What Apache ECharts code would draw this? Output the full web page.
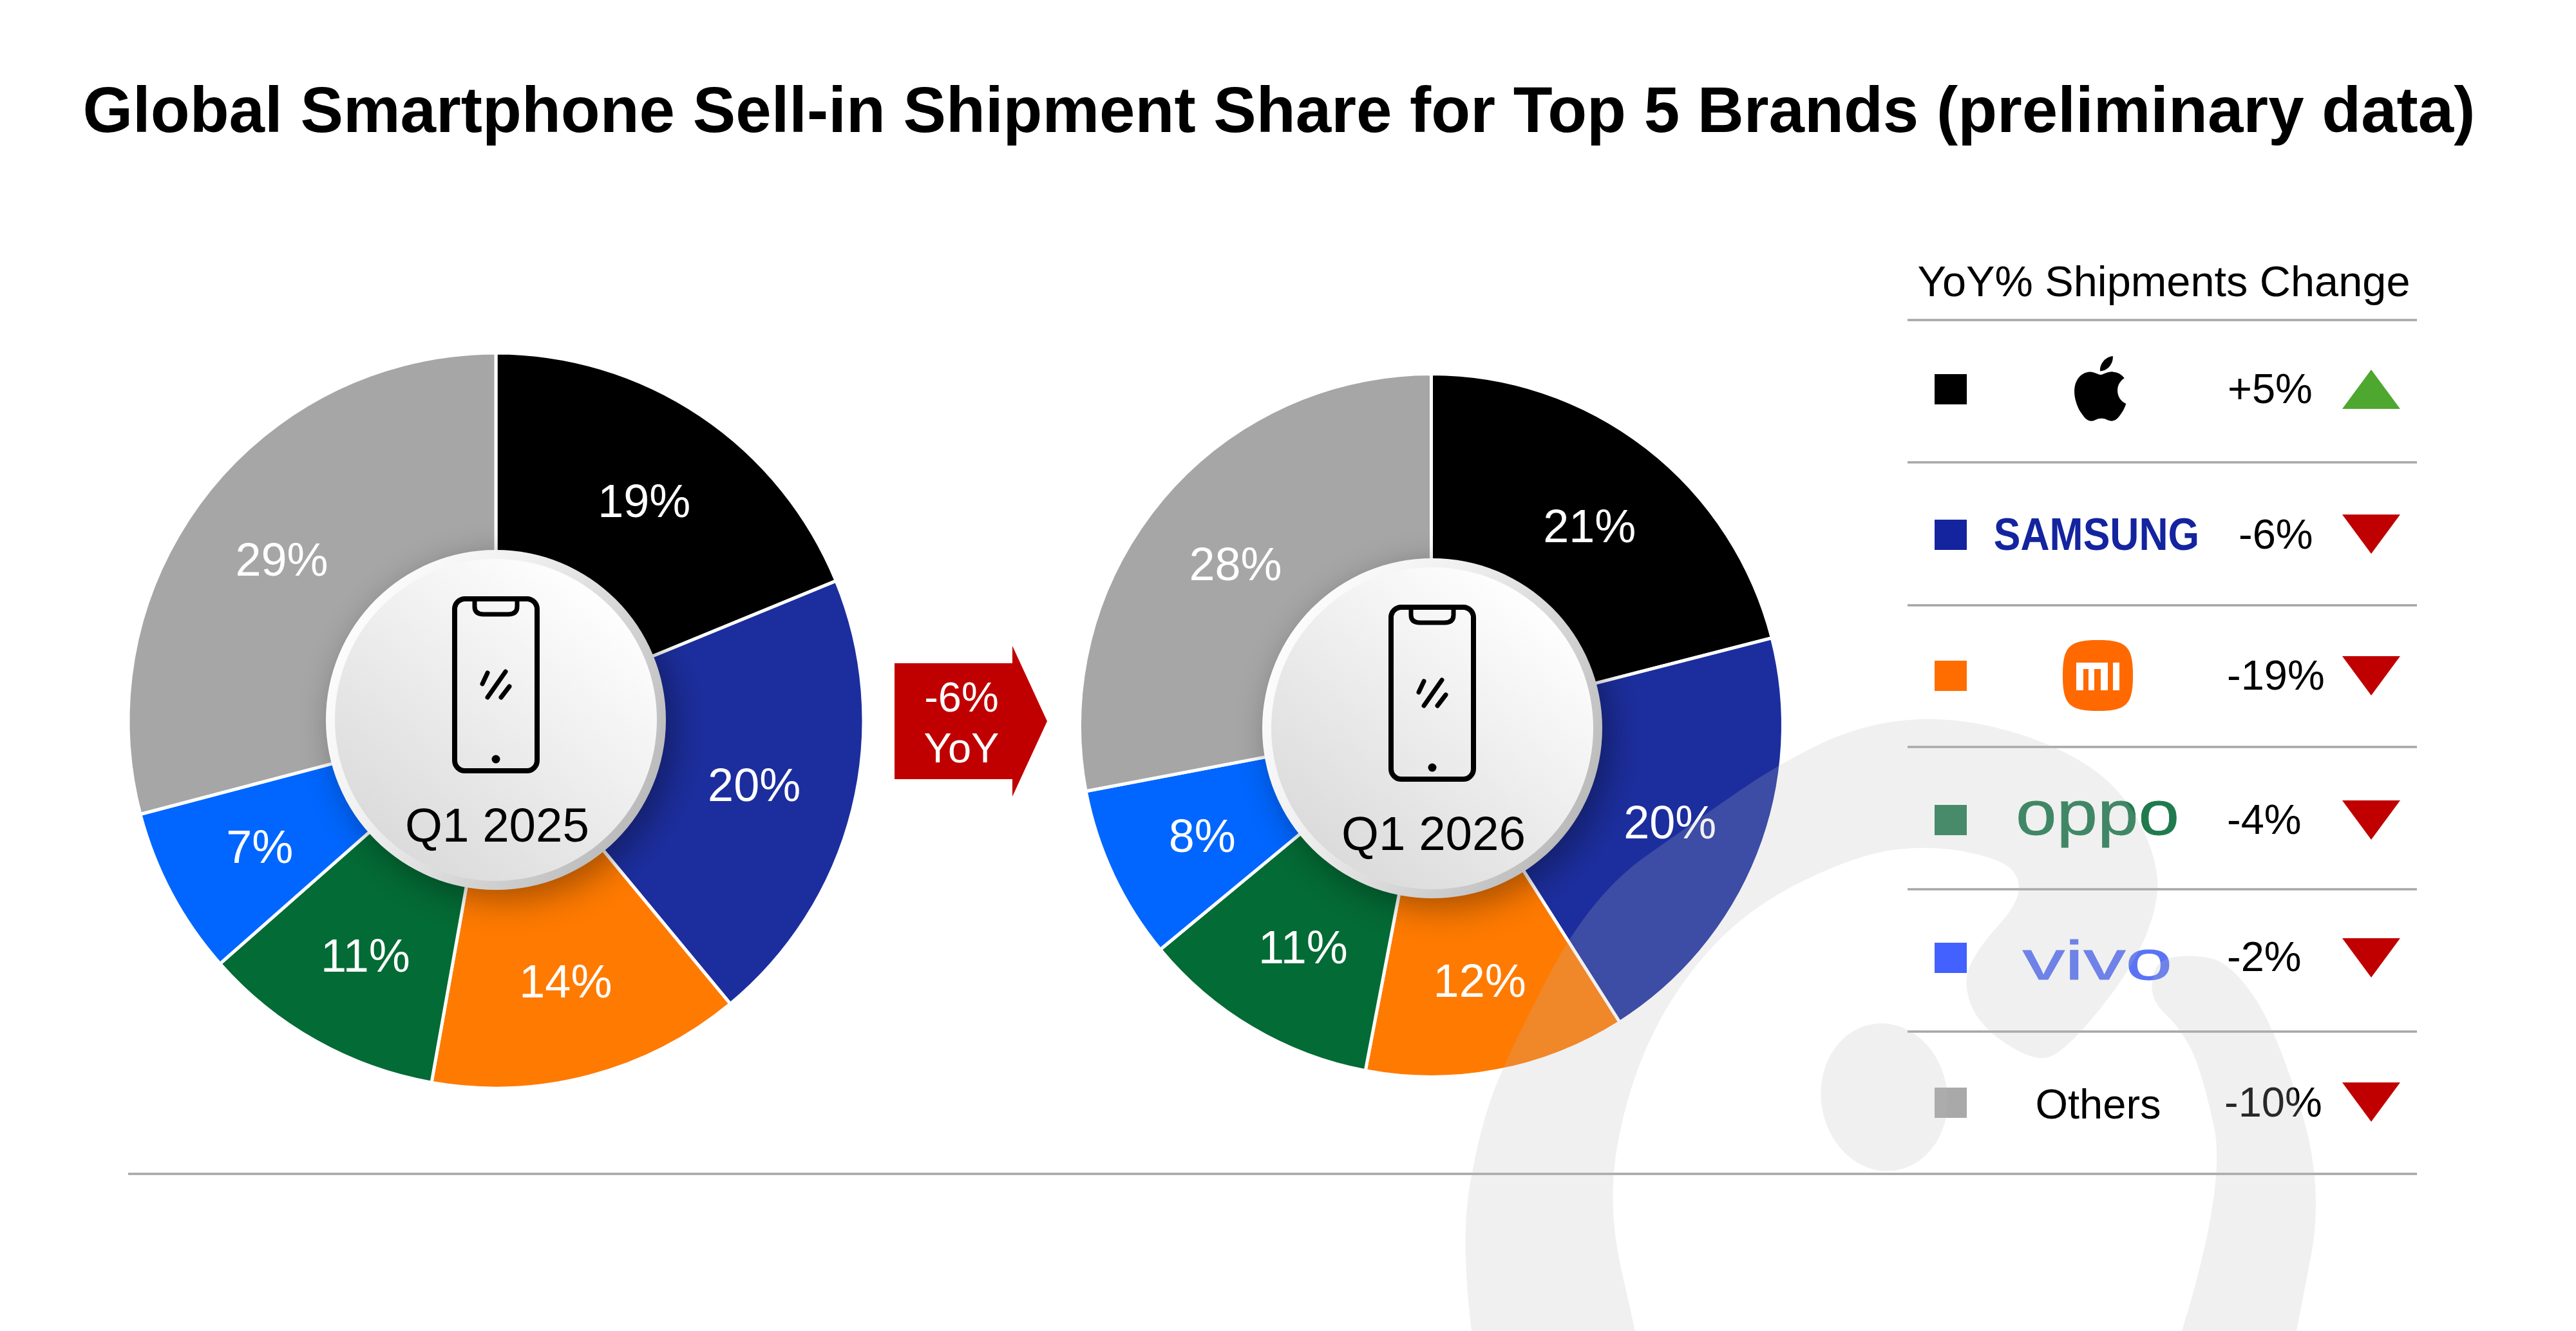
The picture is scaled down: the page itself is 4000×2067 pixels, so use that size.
<!DOCTYPE html>
<html><head><meta charset="utf-8">
<style>html,body{margin:0;padding:0;background:#fff}#c{width:4000px;height:2067px}</style>
<script src="https://cdn.jsdelivr.net/npm/echarts@6/dist/echarts.min.js"></script>
</head><body><div id="c"></div>
<script>
const titleText = 'Global Smartphone Sell-in Shipment Share for Top 5 Brands (preliminary data)';
const brands = ['Apple', 'Samsung', 'Xiaomi', 'OPPO', 'vivo', 'Others'];
const share2025 = [18.8, 20.2, 13.8, 10.7, 7.4, 29.1];
const share2026 = [21, 20, 12, 11, 8, 28];
const yoyChange = [5, -6, -19, -4, -2, -10];
const totalYoY = -6;
const periods = ['Q1 2025', 'Q1 2026'];
const legendHeader = 'YoY% Shipments Change';

const FONT = '"Liberation Sans", Arial, sans-serif';
const pieColors = ['#000000', '#1C2E9E', '#FF7A00', '#036B35', '#0066FF', '#A6A6A6'];
const swatchColors = ['#000000', '#14249F', '#FF6D00', '#297F55', '#4361FF', '#A9A9A9'];
const pieLayout = [
  { cx: 770, cy: 1119, r: 571, dx: 770, dy: 1118,
    ldx: [0, 0, 3, 0, -2, -5], ldy: [8, 5, 10, 10, 7, 8] },
  { cx: 2222.5, cy: 1126.5, r: 546, dx: 2224, dy: 1131,
    ldx: [0, -2, 0, 5, 7, 5], ldy: [12, 8, 8, 4, 6, 10] }
];
const ruleYs = [497, 718, 940, 1160, 1381, 1602, 1823];
const swatchTop = [581, 807, 1026, 1250, 1464, 1689];
const triTop = [574, 799, 1019, 1243, 1457, 1681];
const yoyX = [3459, 3476, 3458, 3458, 3458, 3454];
const yoyY = [608, 834, 1053, 1277, 1490, 1716];

const g = [];
const text = (t, x, y, size, fill, opt) => g.push(Object.assign({
  type: 'text', x, y, z: 50,
  style: Object.assign({ text: t, x: 0, y: 0, fill, font: (opt && opt.weight ? opt.weight + ' ' : '') + size + 'px ' + FONT,
           textAlign: (opt && opt.align) || 'center', textVerticalAlign: 'middle' }, opt && opt.style)
}, opt && opt.el));
let shapeId = 0;
const path = (d, fill, z, extra, el) => {
  const name = 'shape' + (shapeId++);
  echarts.graphic.registerShape(name, echarts.graphic.extendPath(d, {}));
  g.push(Object.assign({ type: name, z: z || 50, shape: {}, style: Object.assign({ fill }, extra) }, el));
};

/* centre discs + phone icons */
pieLayout.forEach((p, i) => {
  const { dx: x, dy: y } = p;
  g.push({ type: 'circle', z: 10, shape: { cx: x, cy: y, r: 264 }, style: {
    fill: new echarts.graphic.LinearGradient(0, 0.2, 1, 0.8, [{ offset: 0, color: '#ffffff' }, { offset: 0.35, color: '#f0f0f0' }, { offset: 1, color: '#b4b4b4' }]),
    shadowBlur: 55, shadowColor: 'rgba(0,0,0,0.36)', shadowOffsetX: 14, shadowOffsetY: 14 } });
  g.push({ type: 'circle', z: 11, shape: { cx: x, cy: y, r: 250 }, style: {
    fill: new echarts.graphic.LinearGradient(0.85, 0.1, 0.2, 0.95, [{ offset: 0, color: '#ffffff' }, { offset: 1, color: '#dadada' }]) } });
  const L = x - 64, R = x + 64, T = y - 188, B = y + 79;
  g.push({ type: 'rect', z: 20, shape: { x: L, y: T, width: R - L, height: B - T, r: 16 }, style: { fill: 'none', stroke: '#000', lineWidth: 8 } });
  path(`M${x-33} ${T}L${x-33} ${T+12}Q${x-33} ${T+24} ${x-19} ${T+24}L${x+19} ${T+24}Q${x+33} ${T+24} ${x+33} ${T+12}L${x+33} ${T}`, 'none', 20, { stroke: '#000', lineWidth: 7 });
  path(`M${x-13} ${y-73}L${x-21} ${y-56}M${x+15} ${y-75}L${x-13} ${y-35}M${x+21} ${y-52}L${x+8} ${y-35}`, 'none', 20, { stroke: '#000', lineWidth: 7, lineCap: 'round' });
  g.push({ type: 'circle', z: 20, shape: { cx: x, cy: y + 61, r: 6.5 }, style: { fill: '#000' } });
  text(periods[i], x + 2, y + 168, 74.5, '#000');
});

/* arrow */
path('M1389 1030L1572 1030L1572 1003L1626 1120L1572 1237L1572 1210L1389 1210Z', '#C00000', 30);
text(totalYoY + '%', 1493, 1087, 65, '#fff');
text('YoY', 1493, 1166, 65, '#fff');

/* legend table */
text(legendHeader, 3360, 442, 66.7, '#000');
ruleYs.forEach((y, i) => {
  const x1 = i === ruleYs.length - 1 ? 199 : 2962;
  g.push({ type: 'line', z: 40, shape: { x1, y1: y, x2: 3753, y2: y }, style: { stroke: '#A6A6A6', lineWidth: 3.5 } });
});
brands.forEach((b, i) => {
  g.push({ type: 'rect', z: 40, shape: { x: 3004, y: swatchTop[i], width: 50, height: 47 }, style: { fill: swatchColors[i] } });
  text((yoyChange[i] > 0 ? '+' : '') + yoyChange[i] + '%', yoyX[i], yoyY[i], 65, '#000', { align: 'left' });
  const t = triTop[i];
  path(yoyChange[i] > 0 ? `M3682 ${t}L3727 ${t+61}L3637 ${t+61}Z` : `M3637 ${t}L3727 ${t}L3682 ${t+61}Z`, yoyChange[i] > 0 ? '#4EA72E' : '#C00000', 40);
});

/* logos */
path('M12.152 6.896c-.948 0-2.415-1.078-3.96-1.04-2.04.027-3.91 1.183-4.961 3.014-2.117 3.675-.546 9.103 1.519 12.09 1.013 1.454 2.208 3.09 3.792 3.039 1.52-.065 2.09-.987 3.935-.987 1.831 0 2.35.987 3.96.948 1.637-.026 2.676-1.48 3.676-2.948 1.156-1.688 1.636-3.325 1.662-3.415-.039-.013-3.182-1.221-3.22-4.857-.026-3.04 2.48-4.494 2.597-4.559-1.429-2.09-3.623-2.324-4.39-2.376-2-.156-3.675 1.09-4.61 1.09zM15.53 3.83c.843-1.012 1.4-2.427 1.245-3.83-1.207.052-2.662.805-3.532 1.818-.78.896-1.454 2.338-1.273 3.714 1.338.104 2.715-.688 3.559-1.701', '#000', 50, {}, { x: 3212, y: 553, scaleX: 4.1, scaleY: 4.2 });
text('SAMSUNG', 3255.5, 834, 71, '#14249F', { weight: 'bold', el: { scaleX: 0.88 } });
path('M3258 994C3302 994 3312 1004 3312 1049C3312 1094 3302 1104 3258 1104C3213 1104 3203 1094 3203 1049C3203 1004 3213 994 3258 994Z', '#FF6900', 50);
path('M3224 1029H3273V1072H3262V1039H3252V1072H3243V1039H3235V1072H3224ZM3281 1029H3291V1072H3281Z', '#fff', 51);
text('oppo', 3257, 1270, 96, '#1F7A4E', { el: { scaleX: 1.19 }, style: { stroke: '#1F7A4E', lineWidth: 0.8 } });
text('vivo', 3257, 1497, 86, '#5A73F5', { el: { scaleX: 1.52 }, style: { stroke: '#5A73F5', lineWidth: 1 } });
text('Others', 3258, 1719, 65, '#000');

/* translucent watermark over everything */
const smooth = pts => {
  let d = `M${pts[0][0]} ${pts[0][1]}`;
  for (let i = 1; i < pts.length - 1; i++) {
    const mx = (pts[i][0] + pts[i + 1][0]) / 2, my = (pts[i][1] + pts[i + 1][1]) / 2;
    d += `Q${pts[i][0]} ${pts[i][1]} ${mx} ${my}`;
  }
  const l = pts[pts.length - 1];
  return d + `L${l[0]} ${l[1]}Z`;
};
const wm = 'rgba(185,185,185,0.216)';
path(smooth([[2285,2067],[2268,1926],[2296,1760],[2338,1643],[2470,1390],[2640,1270],[2762,1186],[2890,1125],[3027,1112],[3180,1150],[3296,1223],[3356,1347],[3342,1439],[3291,1532],[3199,1640],[3153,1646],[3073,1593],[3047,1525],[3073,1470],[3130,1408],[3138,1365],[3107,1334],[3004,1313],[2889,1325],[2717,1408],[2602,1532],[2528,1686],[2495,1871],[2539,2067]]), wm, 100);
path(smooth([[3388,2067],[3458,1840],[3417,1655],[3382,1593],[3348,1562],[3339,1532],[3350,1490],[3405,1482],[3463,1495],[3532,1593],[3610,1840],[3566,2067]]), wm, 100);
g.push({ type: 'ellipse', z: 100, x: 2926, y: 1704, rotation: 0.15, shape: { cx: 0, cy: 0, rx: 98, ry: 115 }, style: { fill: wm } });

const pie = (data, i) => ({
  type: 'pie', name: periods[i], center: [pieLayout[i].cx, pieLayout[i].cy], radius: [250, pieLayout[i].r],
  startAngle: 90, clockwise: true, silent: true, animation: false, avoidLabelOverlap: false,
  itemStyle: { borderColor: '#fff', borderWidth: 5 },
  label: { show: true, position: 'inside', formatter: p => Math.round(p.value) + '%', color: '#fff', fontSize: 72, fontFamily: FONT },
  labelLine: { show: false },
  labelLayout: p => ({ dx: pieLayout[i].ldx[p.dataIndex], dy: pieLayout[i].ldy[p.dataIndex] }),
  data: data.map((v, k) => ({ name: brands[k], value: v, itemStyle: { color: pieColors[k] } }))
});

const chart = echarts.init(document.getElementById('c'), null, { renderer: 'canvas', width: 4000, height: 2067 });
chart.setOption({
  backgroundColor: '#fff', animation: false,
  title: { text: titleText, left: 1981, top: 173, textAlign: 'center', textVerticalAlign: 'middle',
           textStyle: { fontFamily: FONT, fontWeight: 'bold', fontSize: 99.7, color: '#000' } },
  series: [pie(share2025, 0), pie(share2026, 1)],
  graphic: { elements: g }
});
</script></body></html>
